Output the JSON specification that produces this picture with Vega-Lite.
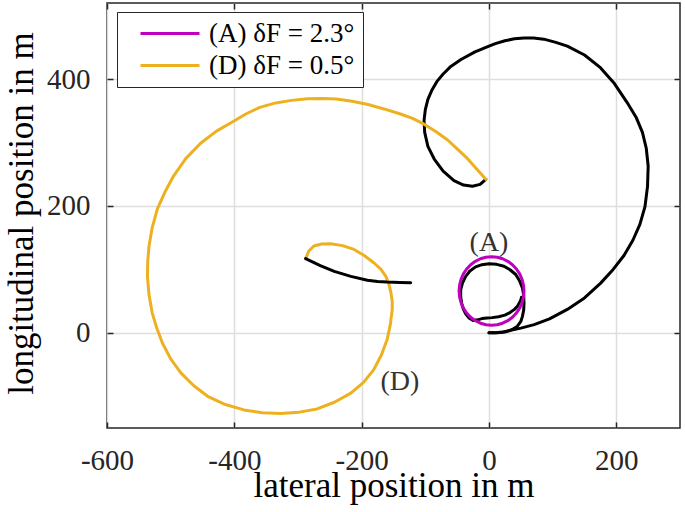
{
  "$schema": "https://vega.github.io/schema/vega-lite/v6.json",
  "width": 573,
  "height": 425,
  "autosize": {"type": "none"},
  "padding": {"left": 107, "top": 3, "right": 5, "bottom": 84},
  "config": {
    "font": "Liberation Serif",
    "view": {"stroke": "#262626", "strokeWidth": 1.5},
    "axis": {"labelFont": "Liberation Serif", "titleFont": "Liberation Serif"}
  },
  "datasets": {
    "bigBlack": [
      {"i": 0, "x": 0, "y": 0}, {"i": 1, "x": 10, "y": 0.3}, {"i": 2, "x": 22, "y": 1.5}, {"i": 3, "x": 34, "y": 4},
      {"i": 4, "x": 50, "y": 7.5}, {"i": 5, "x": 71, "y": 13}, {"i": 6, "x": 95, "y": 22}, {"i": 7, "x": 123, "y": 37},
      {"i": 8, "x": 150, "y": 55}, {"i": 9, "x": 175, "y": 78}, {"i": 10, "x": 195, "y": 100}, {"i": 11, "x": 212, "y": 122},
      {"i": 12, "x": 226, "y": 146}, {"i": 13, "x": 237, "y": 171}, {"i": 14, "x": 245, "y": 199}, {"i": 15, "x": 249, "y": 231},
      {"i": 16, "x": 250, "y": 263}, {"i": 17, "x": 247, "y": 291}, {"i": 18, "x": 241, "y": 316}, {"i": 19, "x": 231, "y": 340},
      {"i": 20, "x": 217, "y": 363}, {"i": 21, "x": 197, "y": 393}, {"i": 22, "x": 175, "y": 418}, {"i": 23, "x": 150, "y": 438},
      {"i": 24, "x": 123, "y": 452}, {"i": 25, "x": 105, "y": 458}, {"i": 26, "x": 86, "y": 463}, {"i": 27, "x": 70, "y": 465},
      {"i": 28, "x": 55, "y": 465}, {"i": 29, "x": 40, "y": 463.5}, {"i": 30, "x": 25, "y": 460.5}, {"i": 31, "x": 10, "y": 456},
      {"i": 32, "x": 0, "y": 452}, {"i": 33, "x": -22, "y": 443}, {"i": 34, "x": -44, "y": 431}, {"i": 35, "x": -60, "y": 420},
      {"i": 36, "x": -72, "y": 408}, {"i": 37, "x": -82, "y": 396}, {"i": 38, "x": -90, "y": 382}, {"i": 39, "x": -96, "y": 368},
      {"i": 40, "x": -100, "y": 352}, {"i": 41, "x": -102, "y": 335}, {"i": 42, "x": -101, "y": 316}, {"i": 43, "x": -96, "y": 294},
      {"i": 44, "x": -86, "y": 274}, {"i": 45, "x": -72, "y": 255}, {"i": 46, "x": -55, "y": 240}, {"i": 47, "x": -40, "y": 233},
      {"i": 48, "x": -26, "y": 231}, {"i": 49, "x": -14, "y": 234}, {"i": 50, "x": -5, "y": 242}
    ],
    "smallBlack": [
      {"i": 0, "x": 0, "y": 0}, {"i": 1, "x": 13, "y": 0.3}, {"i": 2, "x": 26, "y": 1.5}, {"i": 3, "x": 36, "y": 5},
      {"i": 4, "x": 44.6, "y": 10.5}, {"i": 5, "x": 50, "y": 18}, {"i": 6, "x": 52.5, "y": 26}, {"i": 7, "x": 54.5, "y": 36},
      {"i": 8, "x": 55, "y": 47}, {"i": 9, "x": 54.5, "y": 59}, {"i": 10, "x": 52.5, "y": 71}, {"i": 11, "x": 48, "y": 82},
      {"i": 12, "x": 42, "y": 92}, {"i": 13, "x": 33, "y": 99.5}, {"i": 14, "x": 23.6, "y": 105}, {"i": 15, "x": 12, "y": 108},
      {"i": 16, "x": 0, "y": 109}, {"i": 17, "x": -11, "y": 107.5}, {"i": 18, "x": -21, "y": 104}, {"i": 19, "x": -30, "y": 97.5},
      {"i": 20, "x": -36.6, "y": 89}, {"i": 21, "x": -41.5, "y": 79}, {"i": 22, "x": -44.4, "y": 68}, {"i": 23, "x": -44.5, "y": 57},
      {"i": 24, "x": -43, "y": 47}, {"i": 25, "x": -40.5, "y": 38}, {"i": 26, "x": -36.6, "y": 30}, {"i": 27, "x": -31.5, "y": 23.5},
      {"i": 28, "x": -25, "y": 19.5}, {"i": 29, "x": -18, "y": 20.5}, {"i": 30, "x": -11, "y": 22.5}, {"i": 31, "x": -3, "y": 23.5},
      {"i": 32, "x": 5, "y": 24}, {"i": 33, "x": 15, "y": 25.5}, {"i": 34, "x": 25, "y": 28}, {"i": 35, "x": 33, "y": 32},
      {"i": 36, "x": 40, "y": 37}, {"i": 37, "x": 45, "y": 42.5}, {"i": 38, "x": 48, "y": 48}, {"i": 39, "x": 50, "y": 52},
      {"i": 40, "x": 51, "y": 56}
    ],
    "colored": [
      {"s": "A", "i": 0, "x": 55, "y": 66}, {"s": "A", "i": 1, "x": 54.2, "y": 75.4}, {"s": "A", "i": 2, "x": 51.9, "y": 84.5},
      {"s": "A", "i": 3, "x": 48.2, "y": 93}, {"s": "A", "i": 4, "x": 43.1, "y": 100.7}, {"s": "A", "i": 5, "x": 36.8, "y": 107.4},
      {"s": "A", "i": 6, "x": 29.5, "y": 112.8}, {"s": "A", "i": 7, "x": 21.4, "y": 116.8}, {"s": "A", "i": 8, "x": 12.9, "y": 119.2},
      {"s": "A", "i": 9, "x": 4, "y": 120}, {"s": "A", "i": 10, "x": -4.9, "y": 119.2}, {"s": "A", "i": 11, "x": -13.4, "y": 116.8},
      {"s": "A", "i": 12, "x": -21.5, "y": 112.8}, {"s": "A", "i": 13, "x": -28.8, "y": 107.4}, {"s": "A", "i": 14, "x": -35.1, "y": 100.7},
      {"s": "A", "i": 15, "x": -40.2, "y": 93}, {"s": "A", "i": 16, "x": -43.9, "y": 84.5}, {"s": "A", "i": 17, "x": -46.2, "y": 75.4},
      {"s": "A", "i": 18, "x": -47, "y": 66}, {"s": "A", "i": 19, "x": -46.2, "y": 56.6}, {"s": "A", "i": 20, "x": -43.9, "y": 47.5},
      {"s": "A", "i": 21, "x": -40.2, "y": 39}, {"s": "A", "i": 22, "x": -35.1, "y": 31.3}, {"s": "A", "i": 23, "x": -28.8, "y": 24.6},
      {"s": "A", "i": 24, "x": -21.5, "y": 19.2}, {"s": "A", "i": 25, "x": -13.4, "y": 15.2}, {"s": "A", "i": 26, "x": -4.9, "y": 12.8},
      {"s": "A", "i": 27, "x": 4, "y": 12}, {"s": "A", "i": 28, "x": 12.9, "y": 12.8}, {"s": "A", "i": 29, "x": 21.4, "y": 15.2},
      {"s": "A", "i": 30, "x": 29.5, "y": 19.2}, {"s": "A", "i": 31, "x": 36.8, "y": 24.6}, {"s": "A", "i": 32, "x": 43.1, "y": 31.3},
      {"s": "A", "i": 33, "x": 48.2, "y": 39}, {"s": "A", "i": 34, "x": 51.9, "y": 47.5}, {"s": "A", "i": 35, "x": 54.2, "y": 56.6},
      {"s": "A", "i": 36, "x": 55, "y": 66},
      {"s": "D", "i": 0, "x": -5, "y": 242}, {"s": "D", "i": 1, "x": -19, "y": 258}, {"s": "D", "i": 2, "x": -34, "y": 275},
      {"s": "D", "i": 3, "x": -50, "y": 290}, {"s": "D", "i": 4, "x": -65, "y": 304}, {"s": "D", "i": 5, "x": -83, "y": 317},
      {"s": "D", "i": 6, "x": -102, "y": 329}, {"s": "D", "i": 7, "x": -120, "y": 338}, {"s": "D", "i": 8, "x": -139, "y": 345},
      {"s": "D", "i": 9, "x": -165, "y": 353}, {"s": "D", "i": 10, "x": -190, "y": 360}, {"s": "D", "i": 11, "x": -215, "y": 365},
      {"s": "D", "i": 12, "x": -240, "y": 368.5}, {"s": "D", "i": 13, "x": -262, "y": 369.5}, {"s": "D", "i": 14, "x": -285, "y": 369},
      {"s": "D", "i": 15, "x": -310, "y": 366.5}, {"s": "D", "i": 16, "x": -335, "y": 362.5}, {"s": "D", "i": 17, "x": -360, "y": 355.5},
      {"s": "D", "i": 18, "x": -382, "y": 345}, {"s": "D", "i": 19, "x": -400.5, "y": 334}, {"s": "D", "i": 20, "x": -428, "y": 318},
      {"s": "D", "i": 21, "x": -453, "y": 299}, {"s": "D", "i": 22, "x": -476, "y": 275}, {"s": "D", "i": 23, "x": -495, "y": 248},
      {"s": "D", "i": 24, "x": -509, "y": 222}, {"s": "D", "i": 25, "x": -521, "y": 195}, {"s": "D", "i": 26, "x": -529, "y": 166},
      {"s": "D", "i": 27, "x": -534, "y": 137}, {"s": "D", "i": 28, "x": -536, "y": 113}, {"s": "D", "i": 29, "x": -536.5, "y": 89},
      {"s": "D", "i": 30, "x": -534, "y": 60}, {"s": "D", "i": 31, "x": -529, "y": 31.6}, {"s": "D", "i": 32, "x": -522, "y": 8},
      {"s": "D", "i": 33, "x": -513, "y": -16}, {"s": "D", "i": 34, "x": -500, "y": -41}, {"s": "D", "i": 35, "x": -484, "y": -63},
      {"s": "D", "i": 36, "x": -464, "y": -83}, {"s": "D", "i": 37, "x": -442, "y": -100}, {"s": "D", "i": 38, "x": -414, "y": -113},
      {"s": "D", "i": 39, "x": -385, "y": -121.5}, {"s": "D", "i": 40, "x": -356, "y": -126}, {"s": "D", "i": 41, "x": -327, "y": -127},
      {"s": "D", "i": 42, "x": -298, "y": -125}, {"s": "D", "i": 43, "x": -270, "y": -120}, {"s": "D", "i": 44, "x": -242, "y": -109},
      {"s": "D", "i": 45, "x": -217, "y": -95}, {"s": "D", "i": 46, "x": -197, "y": -78}, {"s": "D", "i": 47, "x": -181, "y": -58},
      {"s": "D", "i": 48, "x": -169, "y": -35}, {"s": "D", "i": 49, "x": -160, "y": -10.6}, {"s": "D", "i": 50, "x": -155, "y": 13},
      {"s": "D", "i": 51, "x": -152, "y": 37}, {"s": "D", "i": 52, "x": -152, "y": 50}, {"s": "D", "i": 53, "x": -154, "y": 63},
      {"s": "D", "i": 54, "x": -157, "y": 76}, {"s": "D", "i": 55, "x": -162, "y": 89}, {"s": "D", "i": 56, "x": -170, "y": 100.5},
      {"s": "D", "i": 57, "x": -181, "y": 110.5}, {"s": "D", "i": 58, "x": -196, "y": 122}, {"s": "D", "i": 59, "x": -212, "y": 131.5},
      {"s": "D", "i": 60, "x": -230, "y": 137.5}, {"s": "D", "i": 61, "x": -249, "y": 140.5}, {"s": "D", "i": 62, "x": -263, "y": 140},
      {"s": "D", "i": 63, "x": -275, "y": 137}, {"s": "D", "i": 64, "x": -283, "y": 129}, {"s": "D", "i": 65, "x": -288, "y": 117}
    ],
    "seg2": [
      {"i": 0, "x": -288, "y": 117}, {"i": 1, "x": -265, "y": 106}, {"i": 2, "x": -243, "y": 97}, {"i": 3, "x": -217, "y": 89},
      {"i": 4, "x": -191, "y": 83}, {"i": 5, "x": -175, "y": 81}, {"i": 6, "x": -160, "y": 80}, {"i": 7, "x": -140, "y": 79.5},
      {"i": 8, "x": -123, "y": 79}
    ],
    "labels": [
      {"t": "(A)", "x": 0, "y": 142},
      {"t": "(D)", "x": -140, "y": -78}
    ]
  },
  "layer": [
    {
      "data": {"name": "bigBlack"},
      "mark": {"type": "line", "color": "black", "strokeWidth": 3, "strokeJoin": "round", "strokeCap": "round"},
      "encoding": {
        "x": {"field": "x", "type": "quantitative", "scale": {"domain": [-600, 300], "nice": false, "zero": false},
          "axis": {"orient": "bottom", "values": [-600, -400, -200, 0, 200], "labelExpr": "'' + datum.value",
            "grid": true, "gridColor": "#dedede", "gridWidth": 1.5, "domain": false,
            "tickColor": "#262626", "tickSize": -6, "tickWidth": 1.5, "labelPadding": 47, "labelBaseline": "alphabetic",
            "labelFontSize": 29, "labelColor": "#262626", "labelFlush": false,
            "title": "lateral position in m", "titleFontSize": 35, "titleFontWeight": "normal", "titleColor": "black",
            "titleBaseline": "alphabetic", "titleY": 68}},
        "y": {"field": "y", "type": "quantitative", "scale": {"domain": [-150, 520], "nice": false, "zero": false},
          "axis": {"orient": "left", "values": [0, 200, 400], "labelExpr": "'' + datum.value",
            "grid": true, "gridColor": "#dedede", "gridWidth": 1.5, "domain": false,
            "tickColor": "#262626", "tickSize": -6, "tickWidth": 1.5, "labelPadding": 23,
            "labelFontSize": 29, "labelColor": "#262626",
            "title": "longitudinal position in m", "titleFontSize": 35, "titleFontWeight": "normal", "titleColor": "black",
            "titleBaseline": "alphabetic", "titleX": -75, "titleY": 210}},
        "order": {"field": "i", "type": "quantitative"}
      }
    },
    {
      "data": {"name": "smallBlack"},
      "mark": {"type": "line", "color": "black", "strokeWidth": 3, "strokeJoin": "round", "strokeCap": "round"},
      "encoding": {
        "x": {"field": "x", "type": "quantitative",
          "axis": {"orient": "top", "values": [-600, -400, -200, 0, 200], "labels": false, "grid": false, "domain": false,
            "tickColor": "#262626", "tickSize": -6, "tickWidth": 1.5, "title": null}},
        "y": {"field": "y", "type": "quantitative",
          "axis": {"orient": "right", "values": [0, 200, 400], "labels": false, "grid": false, "domain": false,
            "tickColor": "#262626", "tickSize": -6, "tickWidth": 1.5, "title": null}},
        "order": {"field": "i", "type": "quantitative"}
      }
    },
    {
      "data": {"name": "colored"},
      "mark": {"type": "line", "strokeWidth": 3, "strokeJoin": "round", "strokeCap": "round"},
      "encoding": {
        "x": {"field": "x", "type": "quantitative", "axis": null},
        "y": {"field": "y", "type": "quantitative", "axis": null},
        "order": {"field": "i", "type": "quantitative"},
        "color": {"field": "s", "type": "nominal",
          "scale": {"domain": ["A", "D"], "range": ["#BF00BF", "#EDB120"]},
          "legend": {"orient": "none", "legendX": 10, "legendY": 9, "title": null,
            "strokeColor": "#262626", "fillColor": "white", "padding": 8,
            "symbolType": "M0.2,0H6.1", "symbolSize": 400, "symbolStrokeWidth": 3,
            "labelFont": "Liberation Serif", "labelFontSize": 27, "labelColor": "black", "labelOffset": 57,
            "rowPadding": 4,
            "labelExpr": "datum.label == 'A' ? '(A) δF = 2.3°\u00a0\u00a0\u00a0\u00a0' : '(D) δF = 0.5°\u00a0\u00a0\u00a0\u00a0'"}}
      }
    },
    {
      "data": {"name": "seg2"},
      "mark": {"type": "line", "color": "black", "strokeWidth": 3, "strokeJoin": "round", "strokeCap": "round"},
      "encoding": {
        "x": {"field": "x", "type": "quantitative", "axis": null},
        "y": {"field": "y", "type": "quantitative", "axis": null},
        "order": {"field": "i", "type": "quantitative"}
      }
    },
    {
      "data": {"name": "labels"},
      "mark": {"type": "text", "font": "Liberation Serif", "fontSize": 28, "color": "#333333", "baseline": "middle", "align": "center"},
      "encoding": {
        "x": {"field": "x", "type": "quantitative", "axis": null},
        "y": {"field": "y", "type": "quantitative", "axis": null},
        "text": {"field": "t"}
      }
    }
  ],
  "resolve": {"axis": {"x": "independent", "y": "independent"}}
}
